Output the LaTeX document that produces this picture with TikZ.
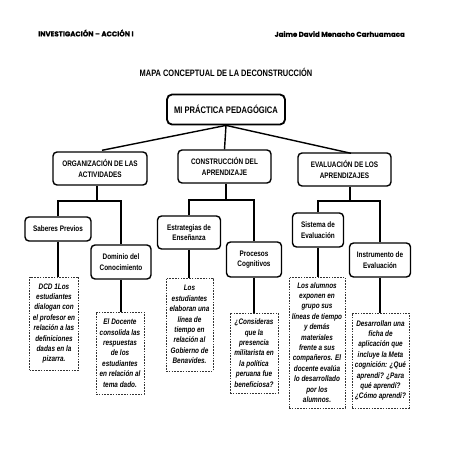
\documentclass[tikz,border=0pt]{standalone}
\usepackage{fontspec}
\setmainfont{Liberation Sans}[FakeStretch=0.8]
\newfontfamily\headfont{Poppins}[FakeBold=0.6]
\begin{document}
\begin{tikzpicture}[x=1pt,y=-1pt,
  box/.style={draw=black,line width=1.4pt,rounded corners=4pt,fill=white,align=center,inner sep=1pt,
    font=\fontsize{8}{10.3}\selectfont\bfseries},
  leaf/.style={draw=black!80,line width=0.8pt,dash pattern=on 1.6pt off 1.2pt,align=center,inner sep=1pt,
    font=\fontsize{8}{10.4}\selectfont\bfseries\itshape},
  conn/.style={line width=1.4pt,black}]
\useasboundingbox (0,0) rectangle (453,453);
\node[anchor=west,inner sep=0pt,font=\headfont\bfseries\fontsize{7}{8}\selectfont] (h1) at (38,33) {INVESTIGACIÓN – ACCIÓN I};
\node[anchor=east,inner sep=0pt,font=\headfont\bfseries\fontsize{7}{8}\selectfont] (h2) at (405,34) {Jaime David Menacho Carhuamaca};
\node[font=\fontsize{9.3}{11}\selectfont\bfseries] (title) at (226,72) {MAPA CONCEPTUAL DE LA DECONSTRUCCIÓN};

\node[box,line width=1.8pt,rounded corners=5pt,minimum width=118pt,minimum height=30pt,font=\fontsize{9.5}{11}\selectfont\bfseries] (root) at (226,109.5) {MI PRÁCTICA PEDAGÓGICA};

\node[box,minimum width=94pt,minimum height=33pt] (org) at (100,168.5) {ORGANIZACIÓN DE LAS\\ACTIVIDADES};
\node[box,minimum width=93pt,minimum height=33pt] (cons) at (224.5,166.5) {CONSTRUCCIÓN DEL\\APRENDIZAJE};
\node[box,minimum width=93pt,minimum height=33pt] (eval) at (344.5,169.5) {EVALUACIÓN DE LOS\\APRENDIZAJES};

\node[box,minimum width=66pt,minimum height=24pt] (sab) at (58,229) {Saberes Previos};
\node[box,minimum width=60pt,minimum height=34pt] (dom) at (121,262) {Dominio del\\Conocimiento};
\node[box,minimum width=63pt,minimum height=33pt] (est) at (189,232.5) {Estrategias de\\Enseñanza};
\node[box,minimum width=55pt,minimum height=35pt] (pro) at (254,259.5) {Procesos\\Cognitivos};
\node[box,minimum width=51pt,minimum height=34pt] (sis) at (318,230) {Sistema de\\Evaluación};
\node[box,minimum width=61pt,minimum height=34pt] (ins) at (380,260) {Instrumento de\\Evaluación};

\node[leaf,minimum width=49pt,minimum height=93pt] (d1) at (54,323.5) {DCD 1Los\\estudiantes\\dialogan con\\el profesor en\\relación a las\\definiciones\\dadas en la\\pizarra.};
\node[leaf,minimum width=48pt,minimum height=82pt] (d2) at (120,353) {El Docente\\consolida las\\respuestas\\de los\\estudiantes\\en relación al\\tema dado.};
\node[leaf,minimum width=47pt,minimum height=93pt] (d3) at (189.5,324.5) {Los\\estudiantes\\elaboran una\\línea de\\tiempo en\\relación al\\Gobierno de\\Benavides.};
\node[leaf,minimum width=48pt,minimum height=80pt] (d4) at (254,353) {¿Consideras\\que la\\presencia\\militarista en\\la política\\peruana fue\\beneficiosa?};
\node[leaf,minimum width=56pt,minimum height=131pt] (d5) at (317,342.5) {Los alumnos\\exponen en\\grupo sus\\líneas de tiempo\\y demás\\materiales\\frente a sus\\compañeros. El\\docente evalúa\\lo desarrollado\\por los\\alumnos.};
\node[leaf,minimum width=57pt,minimum height=95pt] (d6) at (380.5,360.5) {Desarrollan una\\ficha de\\aplicación que\\incluye la Meta\\cognición: ¿Qué\\aprendí? ¿Para\\qué aprendí?\\¿Cómo aprendí?};

% root fan
\draw[conn] (root.south) -- (102,150.3);
\draw[conn] (root.south) -- (cons.north);
\draw[conn] (root.south) -- (351,153.3);

% buses
\coordinate (bA) at (97,201);
\coordinate (bB) at (226,200);
\coordinate (bC) at (350,201);
\draw[conn] (org.south -| bA) -- (bA);
\draw[conn] (sab.north) |- (bA) -| (dom.north);
\draw[conn] (cons.south -| bB) -- (bB);
\draw[conn] (est.north) |- (bB) -| (pro.north);
\draw[conn] (eval.south -| bC) -- (bC);
\draw[conn] (sis.north) |- (bC) -| (ins.north);

% leaves
\draw[conn] (sab.south) -- (sab.south |- d1.north);
\draw[conn] (dom.south) -- (dom.south |- d2.north);
\draw[conn] (est.south) -- (est.south |- d3.north);
\draw[conn] (pro.south) -- (pro.south |- d4.north);
\draw[conn] (sis.south) -- (sis.south |- d5.north);
\draw[conn] (ins.south) -- (ins.south |- d6.north);
\end{tikzpicture}
\end{document}
